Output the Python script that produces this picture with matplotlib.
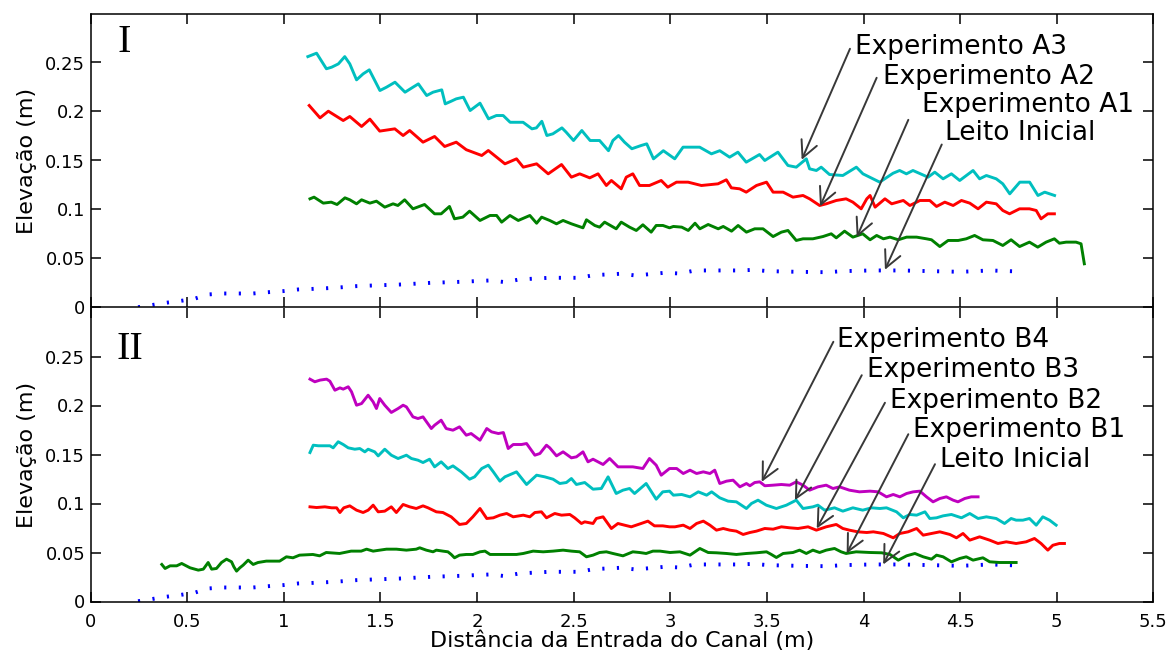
import matplotlib
matplotlib.use("Agg")
import matplotlib.pyplot as plt
from matplotlib.ticker import FormatStrFormatter

# ---- Leito inicial (initial bed profile, shared by both panels) ----
leito_x = [0.245, 0.314, 0.388, 0.457, 0.535, 0.607, 0.685, 0.762, 0.840, 0.917,
           0.995, 1.073, 1.151, 1.223, 1.303, 1.375, 1.453, 1.608, 1.763, 1.913,
           2.067, 2.144, 2.218, 2.373, 2.528, 2.603, 2.741, 2.820, 2.970, 3.050,
           3.128, 3.356, 3.432, 3.506, 3.661, 3.815, 3.890, 4.042, 4.192, 4.348,
           4.503, 4.656, 4.811]
leito_y = [0.0003, 0.0024, 0.0048, 0.0065, 0.0088, 0.0133, 0.0143, 0.0143, 0.0143, 0.0156,
           0.0167, 0.0184, 0.0190, 0.0197, 0.0207, 0.0218, 0.0224, 0.0235, 0.0252, 0.0262,
           0.0276, 0.0259, 0.0286, 0.0303, 0.0303, 0.0330, 0.0344, 0.0327, 0.0354, 0.0347,
           0.0378, 0.0378, 0.0384, 0.0371, 0.0364, 0.0360, 0.0371, 0.0378, 0.0378, 0.0371,
           0.0364, 0.0378, 0.0367]

# ---- Panel I ----
a3_x = [1.124, 1.169, 1.220, 1.247, 1.282, 1.315, 1.341, 1.376, 1.410, 1.442,
        1.497, 1.531, 1.575, 1.627, 1.668, 1.696, 1.739, 1.772, 1.817, 1.835,
        1.866, 1.892, 1.929, 1.964, 2.015, 2.059, 2.100, 2.135, 2.171, 2.203,
        2.238, 2.284, 2.307, 2.335, 2.361, 2.392, 2.439, 2.461, 2.499, 2.542,
        2.556, 2.585, 2.634, 2.680, 2.703, 2.732, 2.763, 2.801, 2.849, 2.878,
        2.913, 2.964, 3.023, 3.066, 3.152, 3.213, 3.256, 3.307, 3.350, 3.393,
        3.462, 3.489, 3.557, 3.609, 3.652, 3.704, 3.721, 3.756, 3.781, 3.824,
        3.893, 3.963, 3.997, 4.084, 4.153, 4.187, 4.222, 4.256, 4.334, 4.369,
        4.412, 4.455, 4.498, 4.567, 4.601, 4.636, 4.687, 4.721, 4.757, 4.809,
        4.860, 4.903, 4.938, 4.989]
a3_y = [0.2560, 0.2595, 0.2436, 0.2452, 0.2486, 0.2560, 0.2486, 0.2323, 0.2384, 0.2425,
        0.2214, 0.2248, 0.2299, 0.2197, 0.2248, 0.2282, 0.2163, 0.2197, 0.2221, 0.2078,
        0.2105, 0.2129, 0.2146, 0.2010, 0.2085, 0.1925, 0.1959, 0.1959, 0.1890, 0.1890,
        0.1890, 0.1823, 0.1833, 0.1900, 0.1755, 0.1772, 0.1833, 0.1789, 0.1704, 0.1806,
        0.1772, 0.1704, 0.1704, 0.1600, 0.1704, 0.1755, 0.1687, 0.1620, 0.1653, 0.1670,
        0.1517, 0.1600, 0.1517, 0.1636, 0.1636, 0.1568, 0.1600, 0.1534, 0.1585, 0.1483,
        0.1561, 0.1500, 0.1585, 0.1449, 0.1432, 0.1517, 0.1415, 0.1398, 0.1432, 0.1357,
        0.1347, 0.1432, 0.1364, 0.1279, 0.1370, 0.1398, 0.1364, 0.1398, 0.1330, 0.1381,
        0.1313, 0.1364, 0.1296, 0.1398, 0.1313, 0.1347, 0.1313, 0.1262, 0.1160, 0.1279,
        0.1279, 0.1143, 0.1177, 0.1143]

a2_x = [1.131, 1.187, 1.230, 1.307, 1.341, 1.402, 1.445, 1.496, 1.574, 1.617,
        1.651, 1.720, 1.780, 1.832, 1.892, 1.944, 2.024, 2.058, 2.144, 2.204,
        2.239, 2.308, 2.368, 2.437, 2.488, 2.531, 2.583, 2.626, 2.669, 2.695,
        2.746, 2.772, 2.806, 2.841, 2.892, 2.953, 2.987, 3.032, 3.092, 3.161,
        3.247, 3.290, 3.316, 3.359, 3.393, 3.446, 3.498, 3.532, 3.584, 3.635,
        3.687, 3.721, 3.773, 3.807, 3.859, 3.910, 3.945, 3.988, 4.017, 4.034,
        4.060, 4.111, 4.146, 4.206, 4.240, 4.292, 4.343, 4.378, 4.421, 4.464,
        4.507, 4.550, 4.593, 4.636, 4.687, 4.721, 4.756, 4.808, 4.859, 4.894,
        4.919, 4.954, 4.988]
a2_y = [0.2061, 0.1935, 0.2003, 0.1908, 0.1949, 0.1847, 0.1922, 0.1800, 0.1823, 0.1755,
        0.1806, 0.1687, 0.1745, 0.1643, 0.1687, 0.1610, 0.1551, 0.1602, 0.1466, 0.1517,
        0.1432, 0.1466, 0.1364, 0.1459, 0.1330, 0.1364, 0.1323, 0.1364, 0.1245, 0.1296,
        0.1211, 0.1330, 0.1364, 0.1245, 0.1245, 0.1296, 0.1228, 0.1279, 0.1279, 0.1245,
        0.1262, 0.1303, 0.1221, 0.1211, 0.1177, 0.1245, 0.1279, 0.1177, 0.1177, 0.1126,
        0.1143, 0.1109, 0.1041, 0.1058, 0.1092, 0.1109, 0.1075, 0.1007, 0.1109, 0.1143,
        0.1024, 0.1109, 0.1058, 0.1092, 0.1041, 0.1092, 0.1092, 0.1031, 0.1075, 0.1041,
        0.1092, 0.1065, 0.1007, 0.1075, 0.1058, 0.0990, 0.0956, 0.1007, 0.1007, 0.0990,
        0.0905, 0.0956, 0.0956]

a1_x = [1.135, 1.156, 1.204, 1.245, 1.275, 1.316, 1.341, 1.376, 1.402, 1.445,
        1.479, 1.522, 1.565, 1.590, 1.625, 1.668, 1.728, 1.780, 1.814, 1.857,
        1.883, 1.926, 1.961, 2.015, 2.067, 2.101, 2.127, 2.170, 2.213, 2.273,
        2.308, 2.334, 2.376, 2.411, 2.445, 2.488, 2.548, 2.566, 2.609, 2.634,
        2.660, 2.720, 2.746, 2.789, 2.824, 2.858, 2.901, 2.927, 2.962, 2.996,
        3.016, 3.059, 3.093, 3.128, 3.153, 3.196, 3.248, 3.274, 3.317, 3.351,
        3.394, 3.437, 3.480, 3.532, 3.575, 3.609, 3.652, 3.687, 3.738, 3.790,
        3.833, 3.859, 3.902, 3.945, 3.996, 4.034, 4.068, 4.103, 4.137, 4.180,
        4.223, 4.275, 4.326, 4.352, 4.395, 4.438, 4.490, 4.532, 4.575, 4.618,
        4.670, 4.721, 4.764, 4.808, 4.859, 4.902, 4.945, 4.988, 5.014, 5.049,
        5.100, 5.126, 5.143]
a1_y = [0.1109, 0.1126, 0.1065, 0.1075, 0.1051, 0.1119, 0.1099, 0.1058, 0.1099, 0.1065,
        0.1085, 0.1024, 0.1058, 0.1041, 0.1099, 0.1007, 0.1051, 0.0956, 0.0956, 0.1031,
        0.0905, 0.0922, 0.0983, 0.0888, 0.0939, 0.0939, 0.0871, 0.0939, 0.0888, 0.0939,
        0.0860, 0.0922, 0.0888, 0.0854, 0.0888, 0.0854, 0.0813, 0.0895, 0.0837, 0.0820,
        0.0871, 0.0803, 0.0871, 0.0820, 0.0786, 0.0844, 0.0769, 0.0837, 0.0837, 0.0813,
        0.0827, 0.0820, 0.0786, 0.0860, 0.0803, 0.0847, 0.0803, 0.0827, 0.0779, 0.0837,
        0.0769, 0.0803, 0.0803, 0.0724, 0.0769, 0.0786, 0.0684, 0.0701, 0.0701, 0.0724,
        0.0752, 0.0711, 0.0779, 0.0718, 0.0752, 0.0691, 0.0735, 0.0701, 0.0718, 0.0691,
        0.0718, 0.0718, 0.0701, 0.0691, 0.0622, 0.0684, 0.0684, 0.0701, 0.0735, 0.0691,
        0.0684, 0.0633, 0.0691, 0.0622, 0.0667, 0.0616, 0.0667, 0.0701, 0.0656, 0.0667,
        0.0667, 0.0650, 0.0446]

# ---- Panel II ----
b4_x = [1.135, 1.160, 1.187, 1.221, 1.238, 1.264, 1.290, 1.307, 1.333, 1.350,
        1.376, 1.402, 1.436, 1.462, 1.479, 1.496, 1.522, 1.556, 1.591, 1.617,
        1.634, 1.668, 1.694, 1.720, 1.763, 1.780, 1.814, 1.840, 1.875, 1.909,
        1.944, 1.969, 2.015, 2.050, 2.075, 2.110, 2.136, 2.161, 2.187, 2.230,
        2.256, 2.299, 2.325, 2.359, 2.376, 2.411, 2.445, 2.488, 2.514, 2.548,
        2.574, 2.600, 2.652, 2.686, 2.729, 2.763, 2.806, 2.858, 2.892, 2.927,
        2.953, 2.996, 3.033, 3.067, 3.102, 3.136, 3.171, 3.205, 3.230, 3.256,
        3.291, 3.325, 3.360, 3.394, 3.412, 3.437, 3.463, 3.489, 3.532, 3.575,
        3.618, 3.652, 3.687, 3.721, 3.764, 3.807, 3.842, 3.876, 3.927, 3.979,
        4.034, 4.076, 4.119, 4.154, 4.188, 4.223, 4.257, 4.292, 4.326, 4.360,
        4.395, 4.429, 4.464, 4.489, 4.524, 4.558, 4.593]
b4_y = [0.2269, 0.2242, 0.2259, 0.2269, 0.2248, 0.2156, 0.2180, 0.2167, 0.2191, 0.2140,
        0.2003, 0.2020, 0.2105, 0.2037, 0.1969, 0.2071, 0.2003, 0.1929, 0.1969, 0.2003,
        0.1986, 0.1884, 0.1867, 0.1884, 0.1765, 0.1799, 0.1850, 0.1765, 0.1748, 0.1782,
        0.1697, 0.1714, 0.1646, 0.1765, 0.1731, 0.1714, 0.1724, 0.1561, 0.1602, 0.1602,
        0.1612, 0.1493, 0.1510, 0.1595, 0.1568, 0.1486, 0.1527, 0.1466, 0.1476, 0.1527,
        0.1425, 0.1452, 0.1398, 0.1459, 0.1374, 0.1374, 0.1374, 0.1357, 0.1459, 0.1391,
        0.1289, 0.1357, 0.1357, 0.1306, 0.1340, 0.1306, 0.1323, 0.1306, 0.1340, 0.1204,
        0.1228, 0.1238, 0.1170, 0.1204, 0.1181, 0.1214, 0.1221, 0.1181, 0.1187, 0.1194,
        0.1187, 0.1221, 0.1187, 0.1136, 0.1170, 0.1187, 0.1153, 0.1170, 0.1136, 0.1119,
        0.1126, 0.1119, 0.1068, 0.1092, 0.1068, 0.1102, 0.1119, 0.1126, 0.1068, 0.1017,
        0.1051, 0.1068, 0.1034, 0.1017, 0.1051, 0.1068, 0.1068]

b3_x = [1.135, 1.152, 1.178, 1.212, 1.238, 1.255, 1.281, 1.307, 1.333, 1.367,
        1.393, 1.419, 1.436, 1.470, 1.488, 1.522, 1.556, 1.591, 1.634, 1.660,
        1.694, 1.720, 1.754, 1.780, 1.814, 1.849, 1.875, 1.918, 1.961, 1.987,
        2.024, 2.058, 2.084, 2.118, 2.144, 2.204, 2.256, 2.308, 2.350, 2.393,
        2.428, 2.462, 2.488, 2.514, 2.557, 2.600, 2.643, 2.678, 2.720, 2.755,
        2.789, 2.815, 2.875, 2.927, 2.961, 2.996, 3.016, 3.059, 3.102, 3.145,
        3.188, 3.214, 3.256, 3.299, 3.342, 3.394, 3.420, 3.454, 3.497, 3.549,
        3.601, 3.652, 3.687, 3.738, 3.764, 3.799, 3.850, 3.893, 3.945, 3.996,
        4.042, 4.085, 4.119, 4.171, 4.206, 4.240, 4.275, 4.318, 4.343, 4.378,
        4.412, 4.455, 4.507, 4.550, 4.593, 4.636, 4.687, 4.730, 4.764, 4.790,
        4.825, 4.859, 4.894, 4.928, 4.963, 4.997]
b3_y = [0.1520, 0.1595, 0.1589, 0.1589, 0.1589, 0.1568, 0.1630, 0.1602, 0.1568, 0.1554,
        0.1561, 0.1527, 0.1554, 0.1527, 0.1486, 0.1554, 0.1493, 0.1459, 0.1493, 0.1459,
        0.1442, 0.1418, 0.1452, 0.1374, 0.1425, 0.1357, 0.1384, 0.1323, 0.1248, 0.1272,
        0.1357, 0.1391, 0.1323, 0.1228, 0.1272, 0.1323, 0.1194, 0.1289, 0.1272, 0.1248,
        0.1204, 0.1214, 0.1255, 0.1194, 0.1214, 0.1146, 0.1153, 0.1272, 0.1102, 0.1136,
        0.1153, 0.1102, 0.1204, 0.1044, 0.1119, 0.1126, 0.1085, 0.1092, 0.1068, 0.1119,
        0.1085, 0.1119, 0.1058, 0.1024, 0.1017, 0.0949, 0.1000, 0.1034, 0.0983, 0.0949,
        0.0983, 0.1034, 0.0949, 0.0966, 0.0983, 0.0932, 0.0956, 0.0922, 0.0956, 0.0932,
        0.0956, 0.0949, 0.0956, 0.0915, 0.0854, 0.0888, 0.0881, 0.0915, 0.0847, 0.0854,
        0.0874, 0.0888, 0.0854, 0.0898, 0.0847, 0.0864, 0.0847, 0.0796, 0.0847, 0.0830,
        0.0830, 0.0847, 0.0779, 0.0864, 0.0830, 0.0779]

b2_x = [1.135, 1.169, 1.212, 1.247, 1.273, 1.290, 1.310, 1.341, 1.376, 1.410,
        1.436, 1.462, 1.488, 1.522, 1.556, 1.582, 1.617, 1.651, 1.685, 1.720,
        1.746, 1.789, 1.823, 1.866, 1.909, 1.944, 1.978, 2.015, 2.050, 2.084,
        2.118, 2.153, 2.187, 2.239, 2.273, 2.299, 2.333, 2.359, 2.402, 2.437,
        2.480, 2.505, 2.540, 2.557, 2.600, 2.617, 2.652, 2.695, 2.729, 2.763,
        2.798, 2.849, 2.884, 2.918, 2.961, 2.996, 3.024, 3.067, 3.102, 3.136,
        3.171, 3.205, 3.239, 3.274, 3.308, 3.342, 3.377, 3.412, 3.446, 3.489,
        3.532, 3.575, 3.618, 3.661, 3.713, 3.756, 3.807, 3.859, 3.893, 3.927,
        3.970, 4.017, 4.051, 4.103, 4.154, 4.188, 4.231, 4.275, 4.309, 4.352,
        4.395, 4.447, 4.481, 4.515, 4.550, 4.601, 4.653, 4.696, 4.739, 4.790,
        4.842, 4.885, 4.919, 4.954, 4.980, 5.014, 5.040]
b2_y = [0.0966, 0.0959, 0.0966, 0.0956, 0.0956, 0.0908, 0.0956, 0.0976, 0.0932, 0.0908,
        0.0932, 0.0983, 0.0915, 0.0922, 0.0966, 0.0908, 0.0990, 0.0966, 0.0949, 0.0976,
        0.0956, 0.0915, 0.0908, 0.0864, 0.0786, 0.0796, 0.0864, 0.0949, 0.0847, 0.0854,
        0.0881, 0.0898, 0.0864, 0.0881, 0.0864, 0.0908, 0.0915, 0.0854, 0.0898, 0.0881,
        0.0888, 0.0854, 0.0796, 0.0813, 0.0796, 0.0847, 0.0864, 0.0745, 0.0796, 0.0779,
        0.0762, 0.0796, 0.0820, 0.0772, 0.0772, 0.0762, 0.0762, 0.0779, 0.0745, 0.0796,
        0.0820, 0.0779, 0.0728, 0.0745, 0.0728, 0.0718, 0.0684, 0.0704, 0.0718, 0.0745,
        0.0738, 0.0762, 0.0752, 0.0745, 0.0762, 0.0728, 0.0762, 0.0786, 0.0745, 0.0728,
        0.0711, 0.0704, 0.0711, 0.0694, 0.0650, 0.0694, 0.0711, 0.0745, 0.0677, 0.0694,
        0.0711, 0.0684, 0.0650, 0.0694, 0.0626, 0.0660, 0.0626, 0.0592, 0.0609, 0.0592,
        0.0609, 0.0643, 0.0592, 0.0524, 0.0574, 0.0592, 0.0592]

b1_x = [0.368, 0.385, 0.411, 0.445, 0.471, 0.514, 0.557, 0.583, 0.608, 0.626,
        0.651, 0.677, 0.703, 0.729, 0.741, 0.755, 0.772, 0.789, 0.815, 0.841,
        0.866, 0.909, 0.978, 1.013, 1.047, 1.081, 1.150, 1.185, 1.219, 1.288,
        1.348, 1.400, 1.428, 1.462, 1.496, 1.531, 1.582, 1.634, 1.685, 1.703,
        1.737, 1.772, 1.789, 1.823, 1.849, 1.866, 1.883, 1.909, 1.944, 1.978,
        2.015, 2.041, 2.067, 2.136, 2.204, 2.239, 2.290, 2.342, 2.393, 2.445,
        2.488, 2.531, 2.566, 2.600, 2.634, 2.669, 2.703, 2.755, 2.806, 2.841,
        2.875, 2.910, 2.947, 2.999, 3.050, 3.102, 3.153, 3.196, 3.239, 3.291,
        3.342, 3.394, 3.446, 3.498, 3.523, 3.549, 3.584, 3.635, 3.669, 3.704,
        3.738, 3.773, 3.807, 3.850, 3.884, 3.910, 3.962, 4.034, 4.094, 4.137,
        4.180, 4.223, 4.266, 4.309, 4.352, 4.378, 4.412, 4.455, 4.498, 4.532,
        4.567, 4.618, 4.653, 4.704, 4.790]
b1_y = [0.0378, 0.0337, 0.0364, 0.0364, 0.0388, 0.0344, 0.0320, 0.0330, 0.0398, 0.0330,
        0.0337, 0.0398, 0.0432, 0.0405, 0.0354, 0.0310, 0.0344, 0.0371, 0.0422, 0.0378,
        0.0398, 0.0412, 0.0412, 0.0456, 0.0446, 0.0473, 0.0480, 0.0466, 0.0500, 0.0490,
        0.0514, 0.0514, 0.0534, 0.0514, 0.0524, 0.0534, 0.0534, 0.0524, 0.0534, 0.0548,
        0.0524, 0.0507, 0.0524, 0.0514, 0.0507, 0.0480, 0.0446, 0.0473, 0.0480, 0.0480,
        0.0507, 0.0514, 0.0480, 0.0480, 0.0480, 0.0490, 0.0514, 0.0507, 0.0514, 0.0524,
        0.0514, 0.0507, 0.0456, 0.0473, 0.0500, 0.0507, 0.0490, 0.0466, 0.0507, 0.0500,
        0.0490, 0.0514, 0.0514, 0.0500, 0.0507, 0.0473, 0.0541, 0.0500, 0.0497, 0.0490,
        0.0480, 0.0490, 0.0497, 0.0507, 0.0480, 0.0449, 0.0490, 0.0500, 0.0524, 0.0490,
        0.0524, 0.0500, 0.0524, 0.0541, 0.0507, 0.0490, 0.0507, 0.0500, 0.0497, 0.0480,
        0.0422, 0.0466, 0.0490, 0.0456, 0.0432, 0.0473, 0.0456, 0.0405, 0.0439, 0.0456,
        0.0422, 0.0446, 0.0405, 0.0398, 0.0398]

# ---- Labels ----
labels_top = ["Experimento A3", "Experimento A2", "Experimento A1", "Leito Inicial"]
labels_bottom = ["Experimento B4", "Experimento B3", "Experimento B2", "Experimento B1", "Leito Inicial"]
x_ticks = [0, 0.5, 1, 1.5, 2, 2.5, 3, 3.5, 4, 4.5, 5, 5.5]
y_ticks = [0, 0.05, 0.1, 0.15, 0.2, 0.25]

CYAN = (0.0, 0.75, 0.75)
RED = (1.0, 0.0, 0.0)
GREEN = (0.0, 0.5, 0.0)
MAGENTA = (0.75, 0.0, 0.75)
BLUE = (0.0, 0.0, 1.0)
ARROW = "#383838"

plt.rcParams["font.family"] = ["DejaVu Sans"]

W, H = 1176, 657
fig = plt.figure(figsize=(W / 100, H / 100), dpi=100)
left, right = 90.7, 1153.3
ax1 = fig.add_axes([left / W, (H - 307.5) / H, (right - left) / W, 294 / H])
ax2 = fig.add_axes([left / W, (H - 601.5) / H, (right - left) / W, 294 / H])

LW = 2.1


def draw_leito(ax):
    ln, = ax.plot(leito_x, leito_y, color=BLUE, lw=2.8,
                  linestyle=(0, (0.55, 3.2)))
    ln.set_dash_capstyle("butt")


# Panel I
draw_leito(ax1)
ax1.plot(a1_x, a1_y, color=GREEN, lw=LW)
ax1.plot(a2_x, a2_y, color=RED, lw=LW)
ax1.plot(a3_x, a3_y, color=CYAN, lw=LW)

# Panel II
draw_leito(ax2)
ax2.plot(b1_x, b1_y, color=GREEN, lw=LW)
ax2.plot(b2_x, b2_y, color=RED, lw=LW)
ax2.plot(b3_x, b3_y, color=CYAN, lw=LW)
ax2.plot(b4_x, b4_y, color=MAGENTA, lw=LW)

for ax in (ax1, ax2):
    ax.set_xlim(0, 5.5)
    ax.set_ylim(0, 0.3)
    ax.set_xticks(x_ticks)
    ax.set_yticks(y_ticks)
    ax.xaxis.set_major_formatter(FormatStrFormatter("%g"))
    ax.yaxis.set_major_formatter(FormatStrFormatter("%g"))
    ax.tick_params(direction="in", length=7.5, width=1.1, top=True, right=True,
                   labelsize=13, colors="black")
    ax.tick_params(axis="y", pad=4)
    ax.tick_params(axis="x", pad=8)
    for s in ax.spines.values():
        s.set_linewidth(1.1)
    ax.set_ylabel("Elevação (m)", fontsize=16, labelpad=6)

# the two panels share a single border line
ax2.spines["top"].set_visible(False)
ax1.tick_params(axis="x", labelbottom=False)
ax2.set_xlabel("Distância da Entrada do Canal (m)", fontsize=16, labelpad=0)

ax1.text(0.141, 0.2707, "I", fontsize=29, family="Liberation Serif",
         ha="left", va="center")
ax2.text(0.136, 0.257, "II", fontsize=29, family="Liberation Serif",
         ha="left", va="center")

# Text arrows: (text x, text y, tail x, tail y, tip x, tip y)
arrows_top = [
    (3.956, 0.2663, 3.930, 0.2640, 3.680, 0.1507),
    (4.102, 0.2357, 4.068, 0.2344, 3.775, 0.1031),
    (4.301, 0.2066, 4.232, 0.1915, 3.965, 0.0717),
    (4.422, 0.1776, 4.405, 0.1663, 4.111, 0.0385),
]
arrows_bottom = [
    (3.861, 0.2666, 3.844, 0.2650, 3.473, 0.1221),
    (4.017, 0.2360, 3.991, 0.2309, 3.645, 0.1034),
    (4.137, 0.2051, 4.111, 0.2028, 3.758, 0.0745),
    (4.258, 0.1745, 4.232, 0.1707, 3.913, 0.0490),
    (4.396, 0.1439, 4.370, 0.1401, 4.102, 0.0378),
]


def add_labels(ax, labels, arrows):
    for lab, (tx, ty, x0, y0, x1, y1) in zip(labels, arrows):
        ax.annotate("", xy=(x1, y1), xytext=(x0, y0),
                    arrowprops=dict(arrowstyle="->,head_length=0.6,head_width=0.3",
                                    color=ARROW, lw=1.4, mutation_scale=20,
                                    shrinkA=0, shrinkB=0))
        ax.text(tx, ty, lab, fontsize=19, ha="left", va="center", color="black")


add_labels(ax1, labels_top, arrows_top)
add_labels(ax2, labels_bottom, arrows_bottom)

fig.savefig("out.png", dpi=100)
